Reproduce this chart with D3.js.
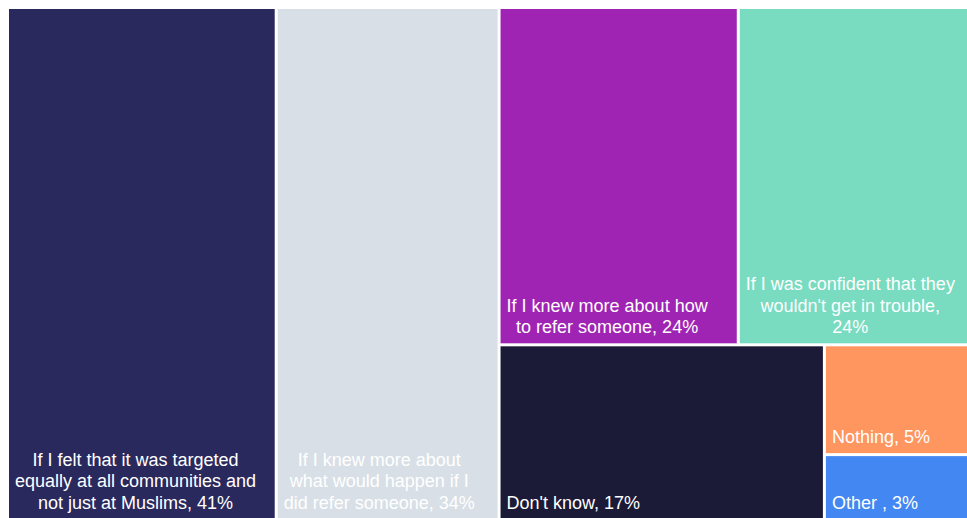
<!DOCTYPE html>
<html>
<head>
<meta charset="utf-8">
<script src="https://cdn.jsdelivr.net/npm/d3@7"></script>
<style>
  html, body { margin: 0; padding: 0; background: #fff; overflow: hidden; }
  svg { display: block; }
  text { font-family: "Liberation Sans", Arial, Helvetica, sans-serif; }
</style>
</head>
<body>
<svg id="chart" width="967" height="518"></svg>
<script>
// Survey answers: what would make respondents more likely to refer someone
const names = [
  "If I felt that it was targeted\nequally at all communities and\nnot just at Muslims",
  "If I knew more about\nwhat would happen if I\ndid refer someone",
  "If I knew more about how\nto refer someone",
  "If I was confident that they\nwouldn't get in trouble",
  "Don't know",
  "Nothing",
  "Other "
];
const values = [41, 34, 24, 24, 17, 5, 3];
const colors = ["#2a295d", "#d8dfe6", "#a024b4", "#79dbc0", "#1b1a37", "#ff965f", "#4387f2"];
// value label goes on its own line
const valueOnNewLine = [false, false, false, true, false, false, false];
// grouping of the answers (indices) used for the nested slice/dice layout
const nesting = [0, 1, [[2, 3], [4, [5, 6]]]];

const svg = d3.select("#chart");
const origin = { x: 9, y: 9 };
const size = [967, 510];
const pad = 6;
const lineHeight = 21.6;

function build(spec) {
  if (Array.isArray(spec)) return { children: spec.map(build) };
  return { index: spec, name: names[spec], value: values[spec], color: colors[spec] };
}

const root = d3.hierarchy(build(nesting))
  .sum(d => d.value || 0);

d3.treemap()
  .tile(d3.treemapSliceDice)
  .size(size)
  .paddingInner(3)
  .round(false)(root);

const g = svg.append("g").attr("transform", `translate(${origin.x},${origin.y})`);

const leaves = g.selectAll("g.leaf")
  .data(root.leaves())
  .join("g")
  .attr("class", "leaf");

leaves.append("rect")
  .attr("x", d => d.x0)
  .attr("y", d => d.y0)
  .attr("width", d => d.x1 - d.x0)
  .attr("height", d => d.y1 - d.y0)
  .attr("fill", d => d.data.color);

leaves.each(function(d) {
  const i = d.data.index;
  const label = d.data.name + "," + (valueOnNewLine[i] ? "\n" : " ") + d.data.value + "%";
  const lines = label.split("\n");
  const t = d3.select(this).append("text")
    .attr("fill", "#fff")
    .attr("font-size", 18)
    .attr("text-anchor", "middle");
  const spans = t.selectAll("tspan")
    .data(lines)
    .join("tspan")
    .text(s => s);
  let maxW = 0;
  spans.each(function() { maxW = Math.max(maxW, this.getComputedTextLength()); });
  const cx = d.x0 + pad + maxW / 2;
  const lastBaseline = d.y1 - 10;
  spans
    .attr("x", cx)
    .attr("y", (s, k) => lastBaseline - (lines.length - 1 - k) * lineHeight);
});
</script>
</body>
</html>
